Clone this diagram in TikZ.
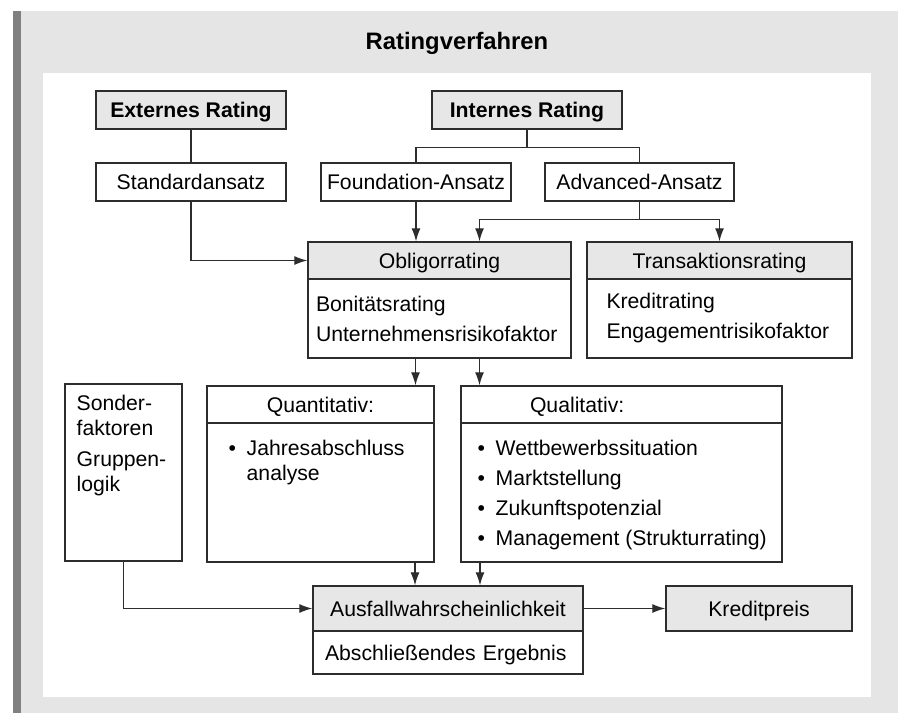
\documentclass[tikz,border=0pt]{standalone}
\usepackage{fontspec}
\setmainfont{Liberation Sans}
\usetikzlibrary{arrows.meta}
\definecolor{panelgray}{RGB}{229,229,229}
\definecolor{bargray}{RGB}{128,128,128}
\definecolor{headgray}{RGB}{231,231,231}
\definecolor{linegray}{RGB}{45,45,45}

\begin{document}
\begin{tikzpicture}
[x=0.5pt, y=-0.5pt,
 every node/.style={font=\fontsize{10.6}{12.5}\selectfont, inner sep=0pt},
 box/.style={draw=linegray, line width=0.7pt, minimum height=19pt, anchor=center},
 oneline/.style={text height=7.6pt, text depth=0pt},
 head/.style={box, oneline, fill=headgray},
 bodytext/.style={font=\fontsize{10.6}{15}\selectfont, align=left},
 conn/.style={draw=linegray, line width=0.6pt},
 arr/.style={conn, -{Latex[length=6.5pt,width=4.5pt]}}]
% Background panel
\useasboundingbox (0,0) rectangle (900,713);
\fill[panelgray] (13,11) rectangle (898,713);
\fill[bargray] (13,11) rectangle (21,713);
\fill[white] (43,73) rectangle (871,697);
\node[font=\bfseries\fontsize{11.9}{14}\selectfont, oneline] (title) at (457,42) {Ratingverfahren};

% Rating types
\node[head, minimum width=95pt, font=\bfseries\fontsize{10.6}{12.5}\selectfont] (extr) at (191,110) {Externes Rating};
\node[head, minimum width=95pt, font=\bfseries\fontsize{10.6}{12.5}\selectfont] (intr) at (527,110) {Internes Rating};
\node[box, oneline, minimum width=95pt] (std) at (191,182) {Standardansatz};
\node[box, oneline, minimum width=95pt] (fnd) at (416,182) {Foundation-Ansatz};
\node[box, oneline, minimum width=94.5pt] (adv) at (639.5,182) {Advanced-Ansatz};

% Obligor and transaction rating
\node[head, minimum width=131.5pt, minimum height=18.5pt] (obl) at (439.5,260.5) {Obligorrating};
\node[box, bodytext, minimum width=131.5pt, minimum height=39.5pt, text width=123.5pt] (oblbody) at (439.5,318.5) {Bonitätsrating\\Unternehmensrisikofaktor};
\node[head, minimum width=132.5pt, minimum height=18.5pt] (trs) at (719.5,260.5) {Transaktionsrating};
\node[box, bodytext, minimum width=132.5pt, minimum height=39.5pt, text width=113pt] (trsbody) at (719.5,318.5) {Kreditrating\\Engagementrisikofaktor};

% Factors
\node[box, minimum width=58.5pt, minimum height=88.5pt] (sonder) at (123.5,472.5) {};
\node[anchor=north west, align=left, inner xsep=6pt, inner ysep=5.5pt] (sondertxt) at (sonder.north west) {Sonder-\\faktoren\\[3pt]Gruppen-\\logik};

\node[box, oneline, minimum width=113.5pt, minimum height=18.5pt] (quant) at (320.5,404.5) {Quantitativ:};
\node[box, minimum width=113.5pt, minimum height=69.5pt] (quantbody) at (320.5,492.5) {};
\node[anchor=north west, align=left, inner xsep=11pt, inner ysep=8.6pt] (quanttxt) at (quantbody.north west)
  {\makebox[9pt][l]{\textbullet}Jahresabschluss\\\hspace*{9pt}analyse};

\node[box, oneline, minimum width=160.5pt, minimum height=18.5pt, text width=160.5pt, align=left] (qual) at (621.5,404.5) {\hspace*{34.5pt}Qualitativ:};
\node[box, minimum width=160.5pt, minimum height=69.5pt] (qualbody) at (621.5,492.5) {};
\node[anchor=north west, align=left, inner xsep=8.5pt, inner ysep=8.6pt] (qualtxt) at (qualbody.north west)
  {\makebox[9pt][l]{\textbullet}Wettbewerbssituation\\[2.5pt]
   \makebox[9pt][l]{\textbullet}Marktstellung\\[2.5pt]
   \makebox[9pt][l]{\textbullet}Zukunftspotenzial\\[2.5pt]
   \makebox[9pt][l]{\textbullet}Management (Strukturrating)};

% Result
\node[head, minimum width=135pt, minimum height=22.5pt] (ausf) at (448,608.5) {Ausfallwahrscheinlichkeit};
\node[box, oneline, align=left, minimum width=135pt, minimum height=21.5pt, text width=123pt] (ausfbody) at (448,652.5) {Abschließendes Ergebnis};
\node[head, minimum width=93pt, minimum height=22.5pt] (kredit) at (759,608.5) {Kreditpreis};

% Connectors
\draw[conn] (extr) -- (std);
\draw[conn] (intr.south) -- ++(0,18) -| (fnd.north);
\draw[conn] (intr.south) -- ++(0,18) -| (adv.north);
\draw[arr] (std.south) |- (obl.west);
\draw[arr] (fnd.south) -- (fnd.south |- obl.north);
\draw[arr] (adv.south) -- ++(0,18) -| ([xshift=20pt]obl.north);
\draw[arr] (adv.south) -- ++(0,18) -| (trs.north);

\draw[arr] ([xshift=-12pt]oblbody.south) -- ([xshift=-12pt]oblbody.south |- quant.north);
\draw[arr] ([xshift=20pt]oblbody.south) -- ([xshift=20pt]oblbody.south |- qual.north);

\draw[arr] ([xshift=-16.5pt]ausf.north |- quantbody.south) -- ([xshift=-16.5pt]ausf.north);
\draw[arr] ([xshift=16pt]ausf.north |- qualbody.south) -- ([xshift=16pt]ausf.north);
\draw[arr] (sonder.south) |- (ausf.west);
\draw[arr] (ausf.east) -- (kredit.west);
\end{tikzpicture}
\end{document}
